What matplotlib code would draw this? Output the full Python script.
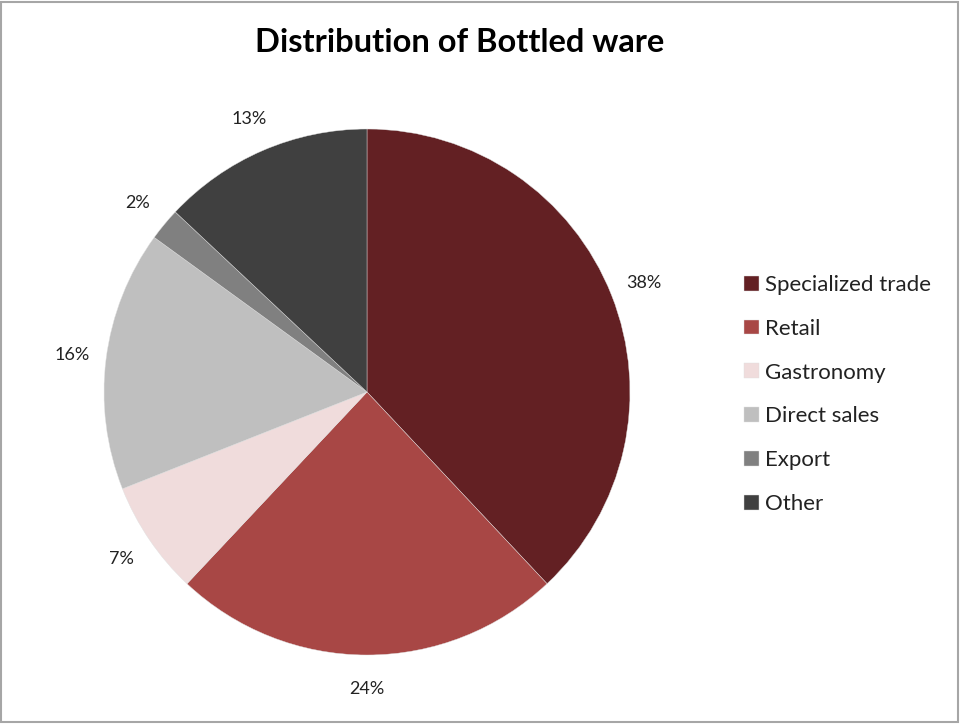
import matplotlib
matplotlib.use('Agg')
from matplotlib import pyplot
from matplotlib.patches import Rectangle

# Data #
categories = ['Specialized trade', 'Retail', 'Gastronomy', 'Direct sales', 'Export', 'Other']
shares     = [38, 24, 7, 16, 2, 13]
colors     = ['#632023', '#A84745', '#F0DCDC', '#BFBFBF', '#808080', '#404040']
title      = 'Distribution of Bottled ware'

pyplot.rcParams['font.family'] = ['Lato', 'DejaVu Sans']

W, H = 961, 724
fig = pyplot.figure(figsize=(W/100, H/100), dpi=100)
fig.patch.set_facecolor('white')

# Pie axes: centre (367, 392) px, radius 263 px #
cx, cy, r = 367, 392, 263
axes = fig.add_axes([(cx-r)/W, (H-cy-r)/H, 2*r/W, 2*r/H])
wedges, texts, autotexts = axes.pie(shares, colors=colors, startangle=90, counterclock=False,
                                    autopct='%d%%', pctdistance=1.13, radius=1,
                                    wedgeprops=dict(linewidth=0.3, edgecolor='#e0e0e0'),
                                    textprops=dict(fontsize=13, color='#222222'))
axes.set_xlim(-1, 1)
axes.set_ylim(-1, 1)
axes.set_aspect('equal')
axes.axis('off')

# Title #
fig.text(460/W, 1-42/H, title, ha='center', va='center', fontsize=23.5, fontweight='bold', color='black')

# Legend #
leg = fig.legend(wedges, categories, loc='upper left', bbox_to_anchor=(733/W, 1-264/H),
                 frameon=False, fontsize=16, handlelength=0.65, handleheight=0.65,
                 handletextpad=0.3, labelspacing=1.07, borderpad=0)
for t in leg.get_texts(): t.set_color('#222222')

# Border #
fig.add_artist(Rectangle((1/W, 2/H), (W-4)/W, (H-4)/H, transform=fig.transFigure,
                         fill=False, edgecolor='#a6a6a6', linewidth=1.5))

fig.savefig('out.png', dpi=100)
pyplot.close(fig)
